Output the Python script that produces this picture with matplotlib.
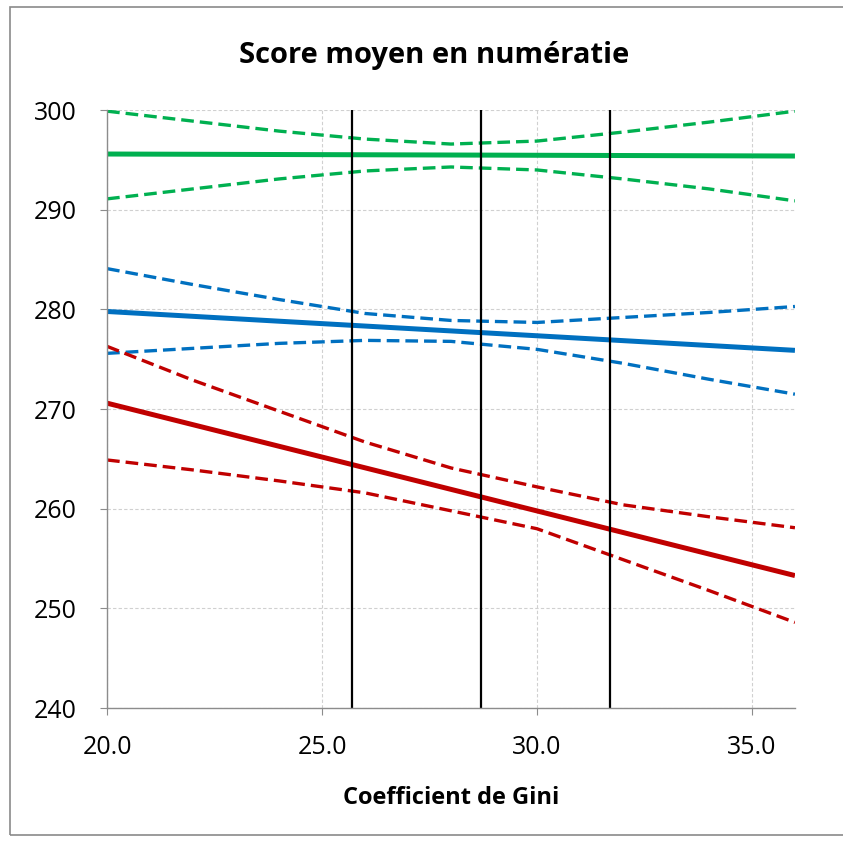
import matplotlib.pyplot as plt
from matplotlib.patches import Rectangle

# Coefficient de Gini (x) positions where the bands were read
gini = [20, 22, 24, 26, 28, 30, 32, 34, 36]
gini_ends = [20, 36]

green_mid = [295.6, 295.4]
green_up = [299.9, 298.9, 297.9, 297.1, 296.6, 296.9, 297.8, 298.8, 299.9]
green_low = [291.1, 292.1, 293.1, 293.9, 294.3, 294.0, 293.1, 292.1, 290.9]

blue_mid = [279.8, 275.9]
blue_up = [284.1, 282.5, 281.0, 279.6, 278.9, 278.7, 279.2, 279.7, 280.3]
blue_low = [275.6, 276.1, 276.6, 276.9, 276.8, 276.0, 274.6, 273.0, 271.5]

red_mid = [270.6, 253.3]
red_up = [276.3, 272.9, 269.8, 266.7, 264.1, 262.2, 260.4, 259.2, 258.1]
red_low = [264.9, 263.9, 262.8, 261.6, 259.8, 258.0, 254.9, 251.8, 248.6]

# vertical reference lines
vlines = [25.7, 28.7, 31.7]

xticks = [20, 25, 30, 35]
yticks = [240, 250, 260, 270, 280, 290, 300]

plt.rcParams['font.family'] = ['Open Sans', 'DejaVu Sans']

fig = plt.figure(figsize=(8.43, 8.41), dpi=100)
ax = fig.add_axes([0.127, 0.158, 0.816, 0.711])

GREEN = '#00b050'
BLUE = '#0070c0'
RED = '#c00000'

for mid, up, low, col in [(green_mid, green_up, green_low, GREEN),
                          (blue_mid, blue_up, blue_low, BLUE),
                          (red_mid, red_up, red_low, RED)]:
    ax.plot(gini_ends, mid, color=col, lw=3.6, solid_capstyle='butt')
    ax.plot(gini, up, color=col, lw=2.4, linestyle=(0, (3.8, 1.8)))
    ax.plot(gini, low, color=col, lw=2.4, linestyle=(0, (3.8, 1.8)))

for v in vlines:
    ax.axvline(v, color='black', lw=1.6)

ax.set_xlim(20, 36)
ax.set_ylim(240, 300)
ax.set_xticks(xticks)
ax.set_xticklabels([f'{t:.1f}' for t in xticks])
ax.set_yticks(yticks)
ax.grid(True, color='#d0d0d0', linestyle=(0, (3, 2)), lw=0.8)
ax.set_axisbelow(True)

for s in ['top', 'right']:
    ax.spines[s].set_visible(False)
for s in ['left', 'bottom']:
    ax.spines[s].set_color('#8c8c8c')
    ax.spines[s].set_linewidth(1.0)
ax.tick_params(axis='both', labelsize=18, color='#8c8c8c', length=5,
               direction='out')
ax.tick_params(axis='y', pad=17)
ax.tick_params(axis='x', pad=14)

fig.text(434 / 843, 1 - 55 / 841, 'Score moyen en numératie', fontsize=21,
         fontweight='bold', ha='center', va='center')
ax.set_xlabel('Coefficient de Gini', fontsize=17, fontweight='bold', labelpad=19)

# outer chart border
fig.patches.append(Rectangle((10 / 843, 6 / 841), 840 / 843, 828 / 841,
                             transform=fig.transFigure, fill=False,
                             edgecolor='#8a8a8a', lw=1.2))

fig.savefig('out.png', dpi=100)
